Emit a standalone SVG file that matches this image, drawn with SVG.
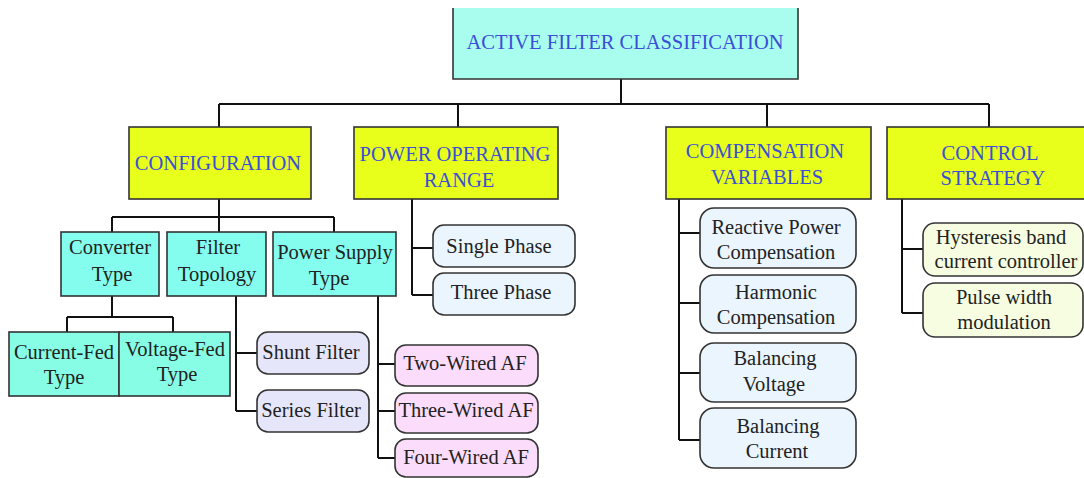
<svg xmlns="http://www.w3.org/2000/svg" width="1084" height="478" viewBox="0 0 1084 478" font-family="'Liberation Serif', 'Times New Roman', Times, serif">
<style>
text{font-family:'Liberation Serif','Times New Roman',Times,serif;font-size:20.5px;text-anchor:middle}
.b{fill:#3b4fd6}
.k{fill:#222}
.box{stroke:#333;stroke-width:1.6}
.top{fill:#a8fdee}
.y{fill:#e8ff1c}
.c{fill:#84fdef}
.cg{fill:#86fde4}
.lav{fill:#e6e6fa}
.lb{fill:#eaf5fe}
.pk{fill:#fcdcfb}
.ly{fill:#f7fde1}
.conn{stroke:#111;stroke-width:2;fill:none}
</style>
<g id="connectors" class="conn">
<path d="M621 79V104M219 104H989M219 104V127M458 104V127M767 104V127M989 104V127"/>
<path d="M219 199V232M112 217H334M112 217V232M334 217V232"/>
<path d="M112 296V317M67 317H173M67 317V332M173 317V332"/>
<path d="M236 296V411M236 353H257M236 411H257"/>
<path d="M378 296V458M378 364H395M378 411H395M378 458H395"/>
<path d="M412 199V295M412 248H433M412 295H433"/>
<path d="M679 199V440M679 233H700M679 303H700M679 373H700M679 440H700"/>
<path d="M902 199V313M902 249H923M902 313H923"/>
</g>
<g id="n-root">
<rect class="top" x="453" y="8" width="345" height="71"/>
<path class="box" fill="none" d="M453 8V79H798V8"/>
<text class="b" x="625" y="49">ACTIVE FILTER CLASSIFICATION</text>
</g>
<g id="n-config">
<rect class="box y" x="129" y="127" width="182" height="72"/>
<text class="b" x="218" y="170">CONFIGURATION</text>
</g>
<g id="n-power">
<rect class="box y" x="354" y="127" width="204" height="72"/>
<text class="b" x="455" y="161">POWER OPERATING</text>
<text class="b" x="459" y="187">RANGE</text>
</g>
<g id="n-comp">
<rect class="box y" x="666" y="127" width="205" height="72"/>
<text class="b" x="765" y="158">COMPENSATION</text>
<text class="b" x="767" y="184">VARIABLES</text>
</g>
<g id="n-control">
<rect class="box y" x="887" y="127" width="198" height="72"/>
<text class="b" x="990" y="160">CONTROL</text>
<text class="b" x="993" y="185">STRATEGY</text>
</g>
<g id="n-converter">
<rect class="box c" x="61" y="232" width="98" height="64"/>
<text class="k" x="110" y="254">Converter</text>
<text class="k" x="112" y="281">Type</text>
</g>
<g id="n-topology">
<rect class="box c" x="167" y="232" width="99" height="64"/>
<text class="k" x="218" y="254">Filter</text>
<text class="k" x="217" y="281">Topology</text>
</g>
<g id="n-supply">
<rect class="box c" x="273" y="232" width="123" height="64"/>
<text class="k" x="335" y="259">Power Supply</text>
<text class="k" x="329" y="285">Type</text>
</g>
<g id="n-current-fed">
<rect class="box cg" x="9" y="332" width="110" height="64"/>
<text class="k" x="64" y="359">Current-Fed</text>
<text class="k" x="64" y="384">Type</text>
</g>
<g id="n-voltage-fed">
<rect class="box cg" x="119" y="332" width="111" height="64"/>
<text class="k" x="175" y="356">Voltage-Fed</text>
<text class="k" x="177" y="381">Type</text>
</g>
<g id="n-shunt">
<rect class="box lav" x="257" y="332" width="112" height="42" rx="11"/>
<text class="k" x="311" y="359">Shunt Filter</text>
</g>
<g id="n-series">
<rect class="box lav" x="257" y="390" width="112" height="42" rx="11"/>
<text class="k" x="311" y="417">Series Filter</text>
</g>
<g id="n-single">
<rect class="box lb" x="433" y="225" width="142" height="42" rx="11"/>
<text class="k" x="499" y="253">Single Phase</text>
</g>
<g id="n-three">
<rect class="box lb" x="433" y="273" width="142" height="42" rx="11"/>
<text class="k" x="501" y="299">Three Phase</text>
</g>
<g id="n-two-wired">
<rect class="box pk" x="395" y="345" width="143" height="41" rx="11"/>
<text class="k" x="465" y="370">Two-Wired AF</text>
</g>
<g id="n-three-wired">
<rect class="box pk" x="395" y="393" width="143" height="40" rx="11"/>
<text class="k" x="466" y="417">Three-Wired AF</text>
</g>
<g id="n-four-wired">
<rect class="box pk" x="395" y="439" width="143" height="38" rx="11"/>
<text class="k" x="466" y="464">Four-Wired AF</text>
</g>
<g id="n-reactive">
<rect class="box lb" x="700" y="208" width="156" height="60" rx="14"/>
<text class="k" x="776" y="234">Reactive Power</text>
<text class="k" x="776" y="259">Compensation</text>
</g>
<g id="n-harmonic">
<rect class="box lb" x="700" y="275" width="156" height="58" rx="14"/>
<text class="k" x="776" y="299">Harmonic</text>
<text class="k" x="776" y="324">Compensation</text>
</g>
<g id="n-bal-voltage">
<rect class="box lb" x="700" y="343" width="156" height="59" rx="14"/>
<text class="k" x="775" y="365">Balancing</text>
<text class="k" x="774" y="391">Voltage</text>
</g>
<g id="n-bal-current">
<rect class="box lb" x="700" y="408" width="156" height="60" rx="14"/>
<text class="k" x="778" y="433">Balancing</text>
<text class="k" x="777" y="458">Current</text>
</g>
<g id="n-hysteresis">
<rect class="box ly" x="923" y="223" width="160" height="53" rx="12"/>
<text class="k" x="1001" y="244">Hysteresis band</text>
<text class="k" x="1006" y="268">current controller</text>
</g>
<g id="n-pwm">
<rect class="box ly" x="923" y="283" width="160" height="54" rx="12"/>
<text class="k" x="1004" y="304">Pulse width</text>
<text class="k" x="1004" y="329">modulation</text>
</g>
</svg>
